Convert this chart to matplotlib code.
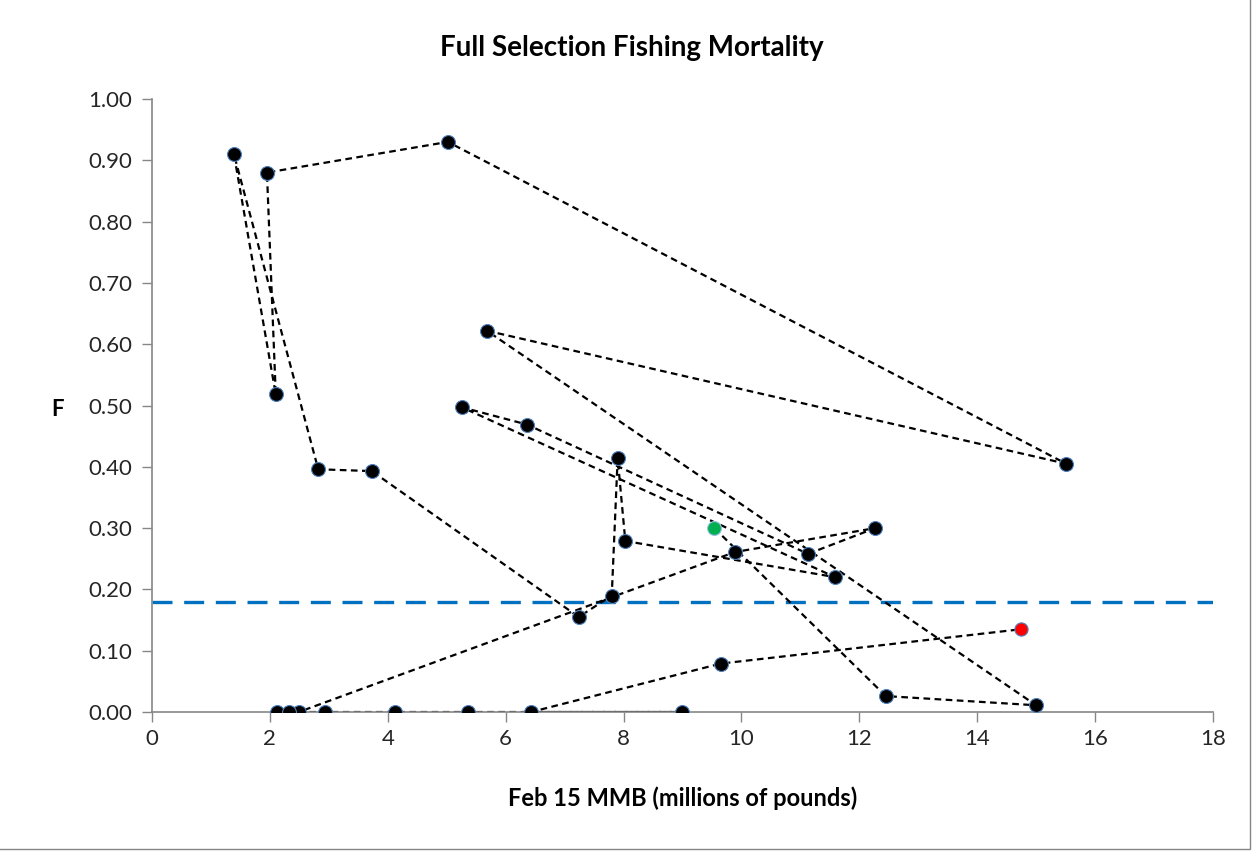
import matplotlib
matplotlib.use("Agg")
import matplotlib.pyplot as plt
from matplotlib.patches import Rectangle

# trajectory of (MMB, F), in the order the dashed line joins them
mmb = [9.54, 12.45, 15.00, 5.68, 15.51, 5.02, 1.95, 2.10, 1.39, 2.82,
       3.73, 7.24, 7.80, 7.90, 8.03, 11.59, 5.26, 6.36, 11.13, 12.27,
       9.89, 2.49, 2.12, 2.32, 2.94, 4.12, 5.36, 8.99, 6.43, 9.65, 14.74]
fmort = [0.300, 0.026, 0.011, 0.622, 0.405, 0.930, 0.880, 0.518, 0.910, 0.396,
         0.393, 0.155, 0.190, 0.414, 0.279, 0.220, 0.497, 0.469, 0.258, 0.300,
         0.261, 0.0, 0.0, 0.0, 0.0, 0.0, 0.0, 0.0, 0.0, 0.079, 0.135]
f_ref = 0.18  # natural mortality reference line

xticks = list(range(0, 19, 2))
yticks = [i / 10 for i in range(11)]

plt.rcParams['font.family'] = ['Lato', 'DejaVu Sans']

fig = plt.figure(figsize=(12.54, 8.52), dpi=100)
ax = fig.add_axes([0.1212, 0.1643, 0.8461, 0.7195])

ax.plot(mmb, fmort, color='black', lw=1.6, ls=(0, (3, 2)), zorder=2)
ax.plot(mmb[1:-1], fmort[1:-1], 'o', ms=10, mfc='black', mec='#4F81BD',
        mew=0.8, ls='none', zorder=3)
ax.plot(mmb[0], fmort[0], 'o', ms=10, mfc='#00B050', mec='#9DC3E6',
        mew=0.8, zorder=3)
ax.plot(mmb[-1], fmort[-1], 'o', ms=9.5, mfc='#FF0000', mec='#4F81BD',
        mew=0.8, zorder=3)

ax.axhline(f_ref, color='#0070C0', lw=2.4, ls=(0, (6, 3.5)), zorder=1)

ax.set_xlim(0, 18)
ax.set_ylim(0, 1.0)
ax.set_xticks(xticks)
ax.set_yticks(yticks)
ax.set_yticklabels([f"{v:.2f}" for v in yticks])
ax.tick_params(axis='both', labelsize=16, color='#868686', length=7,
               width=1, labelcolor='#262626')
ax.tick_params(axis='y', pad=7)
ax.tick_params(axis='x', pad=5)
for side in ('top', 'right'):
    ax.spines[side].set_visible(False)
for side in ('left', 'bottom'):
    ax.spines[side].set_color('#868686')
    ax.spines[side].set_linewidth(1.2)

fig.text(0.504, 0.944, "Full Selection Fishing Mortality", ha='center',
         va='center', fontsize=20, fontweight='bold')
ax.set_xlabel("Feb 15 MMB (millions of pounds)", fontsize=17,
              fontweight='bold', labelpad=27)
fig.text(0.0455, 0.519, "F", ha='center', va='center', fontsize=16,
         fontweight='bold')

# chart area border
fig.patches.append(Rectangle((-0.01, 0.003), 1.007, 1.2, transform=fig.transFigure,
                             fill=False, edgecolor='#868686', lw=1))

fig.savefig("out.png", dpi=100)
